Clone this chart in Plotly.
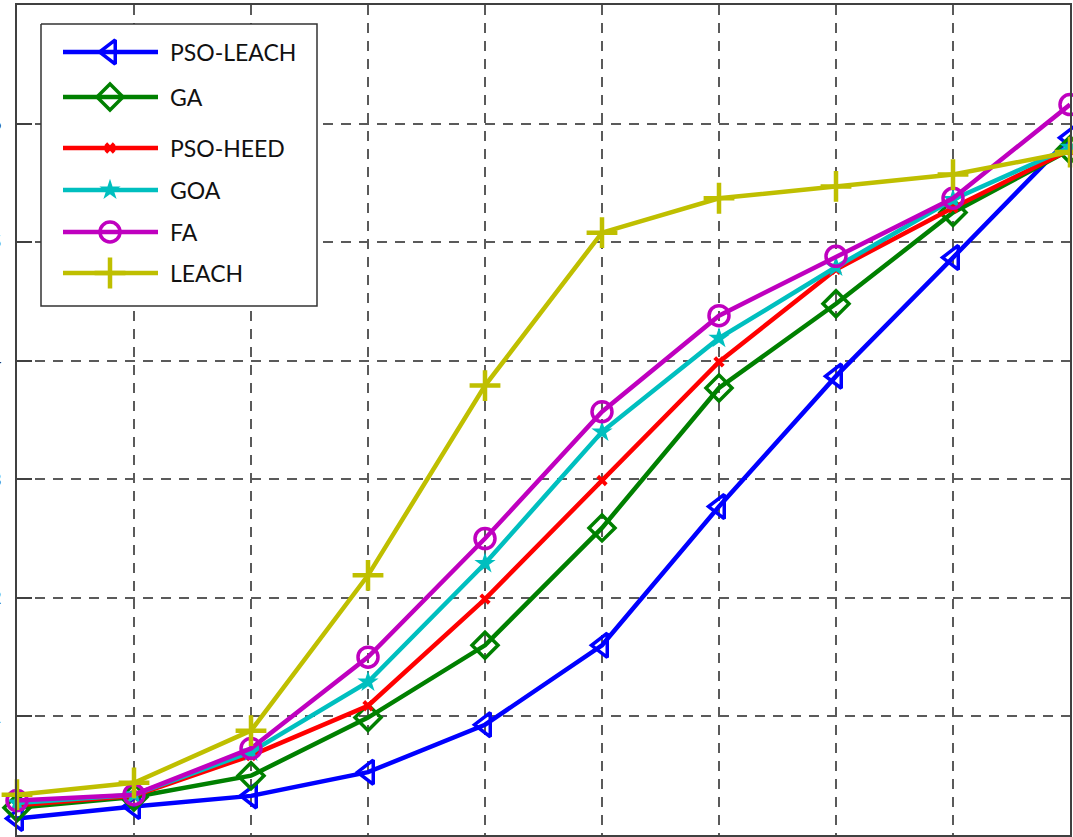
import plotly.graph_objects as go

# x positions of the sampled rounds and the six protocols' curves
rounds = [0, 1, 2, 3, 4, 5, 6, 7, 8, 9]
pso_leach = [0.14, 0.24, 0.33, 0.53, 0.93, 1.60, 2.77, 3.87, 4.87, 5.88]
ga = [0.23, 0.32, 0.50, 0.99, 1.60, 2.59, 3.77, 4.48, 5.25, 5.78]
pso_heed = [0.25, 0.33, 0.67, 1.09, 1.99, 2.99, 3.99, 4.77, 5.29, 5.78]
goa = [0.27, 0.34, 0.70, 1.29, 2.29, 3.40, 4.19, 4.79, 5.36, 5.80]
fa = [0.29, 0.34, 0.73, 1.50, 2.50, 3.57, 4.38, 4.88, 5.37, 6.16]
leach = [0.34, 0.44, 0.88, 2.19, 3.79, 5.08, 5.37, 5.47, 5.57, 5.76]

y_ticks = [0, 1, 2, 3, 4, 5, 6, 7]
y_tick_labels = ["0", "1", "2", "3", "4", "5", "6", "7"]

series = [
    ("PSO-LEACH", pso_leach, "rgb(0,0,255)",
     dict(symbol="triangle-left-open", size=21, line=dict(width=3.5))),
    ("GA", ga, "rgb(0,128,0)",
     dict(symbol="diamond-open", size=20, line=dict(width=3.5))),
    ("PSO-HEED", pso_heed, "rgb(255,0,0)",
     dict(symbol="x", size=10, line=dict(width=0))),
    ("GOA", goa, "rgb(0,191,191)",
     dict(symbol="star", size=16, line=dict(width=0))),
    ("FA", fa, "rgb(191,0,191)",
     dict(symbol="circle-open", size=20, line=dict(width=3.5))),
    ("LEACH", leach, "rgb(191,191,0)",
     dict(symbol="cross-thin-open", size=22, line=dict(width=4.5))),
]

W, H = 1073, 837
L, R, T, B = 17, 3, 5, 2
LINE_W = 4.5


def styled_marker(marker, color):
    m = dict(marker)
    m["color"] = color
    m["line"] = dict(m["line"], color=color)
    return m


fig = go.Figure()

for name, vals, color, marker in series:
    fig.add_trace(go.Scatter(
        x=rounds, y=vals, name=name, mode="lines+markers",
        line=dict(color=color, width=LINE_W),
        marker=styled_marker(marker, color),
        cliponaxis=False, showlegend=False,
    ))

# Hand-built legend drawn on an overlay axis measured in pixels
x_lo, x_hi = L, W - R
y_lo, y_hi = H - B, T
box_x0, box_x1, box_y0, box_y1 = 41, 317, 24, 306
fig.add_trace(go.Scatter(
    x=[box_x0, box_x1, box_x1, box_x0, box_x0],
    y=[box_y0, box_y0, box_y1, box_y1, box_y0],
    mode="lines", fill="toself", fillcolor="white",
    line=dict(color="#333333", width=1.5),
    xaxis="x2", yaxis="y2", showlegend=False, hoverinfo="skip",
))
row_y = [52, 97, 148, 190, 232, 273]
for (name, vals, color, marker), yy in zip(series, row_y):
    fig.add_trace(go.Scatter(
        x=[63, 158], y=[yy, yy], mode="lines", xaxis="x2", yaxis="y2",
        line=dict(color=color, width=LINE_W), showlegend=False, hoverinfo="skip",
    ))
    fig.add_trace(go.Scatter(
        x=[110], y=[yy], mode="markers", xaxis="x2", yaxis="y2",
        marker=styled_marker(marker, color), showlegend=False, hoverinfo="skip",
    ))
    fig.add_annotation(
        x=168, y=yy, xref="x2", yref="y2", text=name, showarrow=False,
        xanchor="left", yanchor="middle",
        font=dict(family="Lato", size=23, color="#111111"),
    )

grid = dict(showgrid=True, gridcolor="#5a5a5a", gridwidth=1.5, griddash="10px,8px",
            zeroline=False, showline=True, linecolor="#404040", linewidth=2,
            mirror=True, automargin=False)

fig.update_layout(
    width=W, height=H,
    margin=dict(l=L, r=R, t=T, b=B),
    paper_bgcolor="white", plot_bgcolor="white",
    xaxis=dict(range=[0, 9], tickvals=rounds, showticklabels=False,
               ticks="", **grid),
    yaxis=dict(range=[0, 7], tickvals=y_ticks, ticktext=y_tick_labels,
               ticks="inside", ticklen=15, tickwidth=1.5, tickcolor="#404040",
               tickfont=dict(family="Lato", size=18, color="#222222"),
               ticklabelstandoff=10, **grid),
    xaxis2=dict(range=[x_lo, x_hi], overlaying="x", visible=False, fixedrange=True),
    yaxis2=dict(range=[y_lo, y_hi], overlaying="y", visible=False, fixedrange=True),
)

fig.write_html("out.html")
